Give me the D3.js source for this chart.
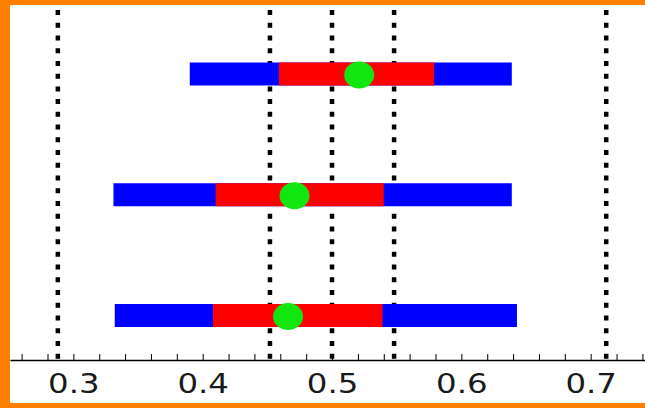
<!DOCTYPE html>
<html>
<head>
<meta charset="utf-8">
<script src="https://cdn.jsdelivr.net/npm/d3@7"></script>
<style>
  html, body { margin: 0; padding: 0; background: #fff; }
  svg { display: block; }
</style>
</head>
<body>
<svg id="chart" width="645" height="408"></svg>
<script>
// Interval rows, drawn top to bottom
const rows = ["first", "second", "third"];
const outerLow  = [0.390, 0.331, 0.332];
const innerLow  = [0.459, 0.410, 0.408];
const innerHigh = [0.579, 0.540, 0.539];
const outerHigh = [0.639, 0.639, 0.643];
const centers   = [0.521, 0.471, 0.466];

// Dotted reference lines
const refLines = [0.288, 0.452, 0.5, 0.548, 0.712];

// Axis ticks
const tickLabels = [0.3, 0.4, 0.5, 0.6, 0.7];
const minorTicks = d3.range(13, 38).map(i => +(i * 0.02).toFixed(2));

const W = 645, H = 408;
const svg = d3.select("#chart");

// frame
svg.append("rect").attr("x", 0).attr("y", 0).attr("width", W).attr("height", H).attr("fill", "#ff7f00");
svg.append("rect").attr("x", 10).attr("y", 5).attr("width", W - 10).attr("height", 398).attr("fill", "#fff");

const x = d3.scaleLinear().domain([0.251, 0.742]).range([10, 645]);
const y = d3.scalePoint().domain(rows).range([74, 315.5]);
const axisY = 360;
const barH = 23;

// reference lines
svg.append("g").selectAll("line").data(refLines).join("line")
  .attr("x1", d => x(d)).attr("x2", d => x(d))
  .attr("y1", 10).attr("y2", axisY)
  .attr("stroke", "#000").attr("stroke-width", 4.5)
  .attr("stroke-dasharray", "5,7.73");

// interval bars
const g = svg.append("g").selectAll("g").data(rows).join("g");
g.append("rect")
  .attr("x", (d, i) => x(outerLow[i]))
  .attr("width", (d, i) => x(outerHigh[i]) - x(outerLow[i]))
  .attr("y", d => y(d) - barH / 2).attr("height", barH)
  .attr("fill", "#0000ff");
g.append("rect")
  .attr("x", (d, i) => x(innerLow[i]))
  .attr("width", (d, i) => x(innerHigh[i]) - x(innerLow[i]))
  .attr("y", d => y(d) - barH / 2).attr("height", barH)
  .attr("fill", "#ff0000");
g.append("ellipse")
  .attr("cx", (d, i) => x(centers[i]))
  .attr("cy", d => y(d) + 1)
  .attr("rx", 15).attr("ry", 13.5)
  .attr("fill", "#11e611");

// minor ticks pointing up
svg.append("g").attr("transform", `translate(0,${axisY})`)
  .call(d3.axisBottom(x).tickValues(minorTicks).tickSizeInner(-6).tickSizeOuter(0).tickFormat(""))
  .call(a => a.select(".domain").attr("stroke", "#000").attr("stroke-width", 1.5))
  .call(a => a.selectAll(".tick line").attr("stroke", "#000").attr("stroke-width", 1));

// labels
svg.append("g").attr("transform", `translate(0,${axisY})`)
  .call(d3.axisBottom(x).tickValues(tickLabels).tickSize(0).tickFormat(d3.format(".1f")))
  .call(a => a.select(".domain").remove())
  .call(a => a.selectAll(".tick text")
    .attr("y", 32.7).attr("dy", null)
    .attr("font-family", "DejaVu Sans").attr("font-size", 27)
    .attr("fill", "#1a1a1a")
    .attr("transform", "scale(1.2,1)"));
</script>
</body>
</html>
